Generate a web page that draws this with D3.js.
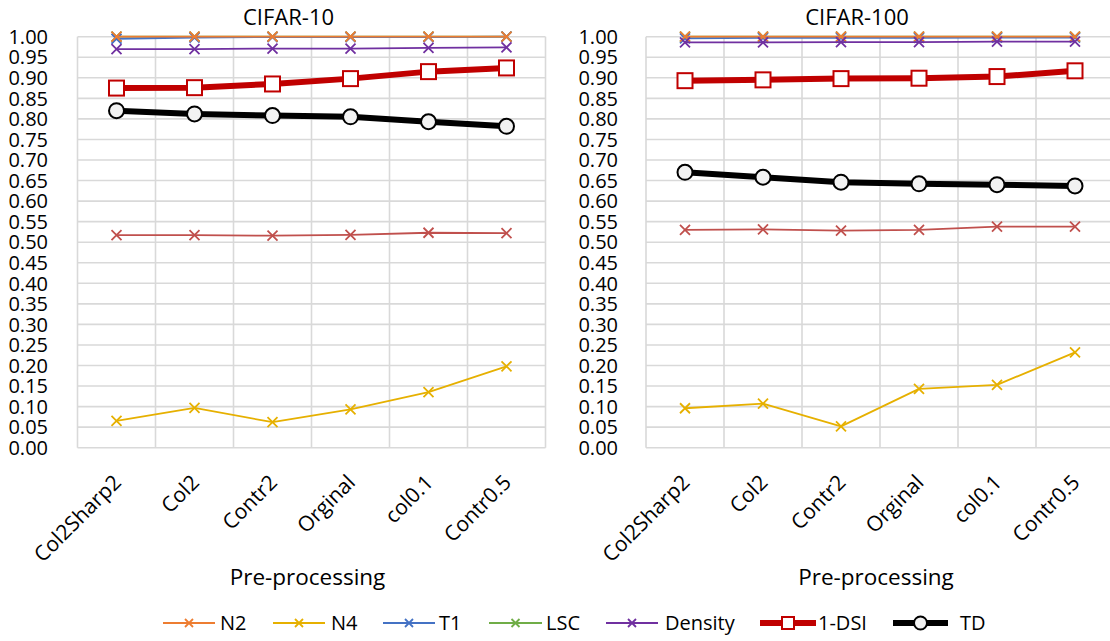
<!DOCTYPE html>
<meta charset="utf-8">
<style>
body { margin: 0; background: #fff; overflow: hidden; }
text { font-family: "Open Sans", "Noto Sans", sans-serif; fill: #000; }
</style>
<body>
<svg width="1110" height="641"></svg>
</body>
<script src="https://d3js.org/d3.v7.min.js"></script>
<script>

// categories on the x axis
var categories = ["Col2Sharp2", "Col2", "Contr2", "Orginal", "col0.1", "Contr0.5"];
var yTicks = d3.range(0, 1.0001, 0.05);

// CIFAR-10 values
var c10_N2      = [1.000, 1.000, 1.000, 1.000, 1.000, 1.000];
var c10_N4      = [0.065, 0.097, 0.062, 0.093, 0.135, 0.198];
var c10_T1      = [0.995, 0.998, 0.999, 0.999, 0.999, 1.000];
var c10_LSC     = [1.000, 1.000, 1.000, 1.000, 1.000, 1.000];
var c10_Density = [0.970, 0.970, 0.971, 0.971, 0.973, 0.974];
var c10_Other   = [0.517, 0.517, 0.516, 0.518, 0.523, 0.522];
var c10_DSI     = [0.875, 0.876, 0.885, 0.898, 0.915, 0.924];
var c10_TD      = [0.820, 0.812, 0.808, 0.805, 0.793, 0.782];

// CIFAR-100 values
var c100_N2      = [1.000, 1.000, 1.000, 1.000, 1.000, 1.000];
var c100_N4      = [0.096, 0.107, 0.052, 0.143, 0.153, 0.232];
var c100_T1      = [0.996, 0.997, 0.997, 0.997, 0.998, 0.998];
var c100_LSC     = [1.000, 1.000, 1.000, 1.000, 1.000, 1.000];
var c100_Density = [0.986, 0.986, 0.987, 0.987, 0.988, 0.988];
var c100_Other   = [0.530, 0.531, 0.528, 0.530, 0.538, 0.538];
var c100_DSI     = [0.893, 0.895, 0.898, 0.899, 0.903, 0.917];
var c100_TD      = [0.670, 0.658, 0.646, 0.642, 0.640, 0.637];

// series styles (drawing order: first is drawn underneath)
var seriesStyle = [
  {key: "LSC",     color: "#70AD47", width: 1.8, marker: "x"},
  {key: "T1",      color: "#4472C4", width: 1.8, marker: "x"},
  {key: "N2",      color: "#ED7D31", width: 1.8, marker: "x"},
  {key: "N4",      color: "#E6B000", width: 1.8, marker: "x"},
  {key: "Density", color: "#7030A0", width: 1.8, marker: "x"},
  {key: "Other",   color: "#C0504D", width: 1.8, marker: "x"},
  {key: "1-DSI",   color: "#C00000", width: 6,   marker: "square"},
  {key: "TD",      color: "#000000", width: 6,   marker: "circle"}
];
var legendOrder = ["N2", "N4", "T1", "LSC", "Density", "1-DSI", "TD"];

var panels = [
  {title: "CIFAR-10", left: 77.5, right: 545.5, labelRight: 48,
   data: {N2: c10_N2, N4: c10_N4, T1: c10_T1, LSC: c10_LSC, Density: c10_Density,
          Other: c10_Other, "1-DSI": c10_DSI, TD: c10_TD}},
  {title: "CIFAR-100", left: 646, right: 1114, labelRight: 618,
   data: {N2: c100_N2, N4: c100_N4, T1: c100_T1, LSC: c100_LSC, Density: c100_Density,
          Other: c100_Other, "1-DSI": c100_DSI, TD: c100_TD}}
];

var svg = d3.select("svg");
var plotTop = 36.7, plotBottom = 447.7;

function drawMarker(g, type, x, y, color, small) {
  if (type == "x") {
    var s = small ? 4 : 5;
    g.append("path")
      .attr("d", "M" + (x - s) + "," + (y - s) + "L" + (x + s) + "," + (y + s) +
                 "M" + (x - s) + "," + (y + s) + "L" + (x + s) + "," + (y - s))
      .attr("stroke", color).attr("stroke-width", 1.8).attr("fill", "none");
  } else if (type == "square") {
    var h = small ? 6 : 7.5;
    g.append("rect")
      .attr("x", x - h).attr("y", y - h).attr("width", 2 * h).attr("height", 2 * h)
      .attr("fill", "#fff").attr("stroke", color).attr("stroke-width", 2);
  } else {
    g.append("circle")
      .attr("cx", x).attr("cy", y).attr("r", small ? 6.5 : 7.5)
      .attr("fill", "#f2f2f2").attr("stroke", color).attr("stroke-width", 2);
  }
}

panels.forEach(function(p) {
  var x = d3.scaleBand().domain(categories).range([p.left, p.right]);
  var y = d3.scaleLinear().domain([0, 1]).range([plotBottom, plotTop]);
  var g = svg.append("g");
  var mid = (p.left + p.right) / 2;

  // horizontal gridlines
  g.selectAll(".hg").data(yTicks).enter().append("line")
    .attr("x1", p.left).attr("x2", p.right)
    .attr("y1", function(d) { return y(d); }).attr("y2", function(d) { return y(d); })
    .attr("stroke", "#d9d9d9").attr("stroke-width", 1.6);

  // vertical gridlines
  var vx = categories.map(function(c) { return x(c); }).concat([p.right]);
  g.selectAll(".vg").data(vx).enter().append("line")
    .attr("x1", function(d) { return d; }).attr("x2", function(d) { return d; })
    .attr("y1", plotTop).attr("y2", plotBottom)
    .attr("stroke", "#d9d9d9").attr("stroke-width", 1.6);

  // y tick labels
  g.selectAll(".yl").data(yTicks).enter().append("text")
    .attr("x", p.labelRight).attr("y", function(d) { return y(d); })
    .attr("dy", "0.36em").attr("text-anchor", "end")
    .style("font-size", "20px")
    .text(function(d) { return d3.format(".2f")(d); });

  // x tick labels, rotated
  g.selectAll(".xl").data(categories).enter().append("text")
    .attr("transform", function(d) {
      return "translate(" + (x(d) + x.bandwidth() / 2 + 6) + "," + (plotBottom + 36) + ") rotate(-45)";
    })
    .attr("text-anchor", "end")
    .style("font-size", "21px")
    .text(function(d) { return d; });

  // title
  g.append("text")
    .attr("x", mid - 23).attr("y", 25)
    .attr("text-anchor", "middle").style("font-size", "22px")
    .text(p.title);

  // axis title
  g.append("text")
    .attr("x", mid - 4).attr("y", 585)
    .attr("text-anchor", "middle").style("font-size", "22.5px")
    .text("Pre-processing");

  // series
  seriesStyle.forEach(function(s) {
    var vals = p.data[s.key];
    var line = d3.line()
      .x(function(d, i) { return x(categories[i]) + x.bandwidth() / 2; })
      .y(function(d) { return y(d); });
    g.append("path").datum(vals)
      .attr("d", line).attr("fill", "none")
      .attr("stroke", s.color).attr("stroke-width", s.width)
      .attr("stroke-linejoin", "round");
    vals.forEach(function(v, i) {
      drawMarker(g, s.marker, x(categories[i]) + x.bandwidth() / 2, y(v), s.color, false);
    });
  });
});

// legend
var legendX0 = [163, 273, 383, 489, 606, 760, 893];
var legendX1 = [215, 325, 435, 542, 658, 816, 948];
var legendTx = [220, 331, 439, 546, 665, 818, 960];
var leg = svg.append("g");
legendOrder.forEach(function(k, i) {
  var s = seriesStyle.find(function(d) { return d.key == k; });
  var ly = 623;
  var x0 = legendX0[i], x1 = legendX1[i];
  leg.append("line").attr("x1", x0).attr("x2", x1).attr("y1", ly).attr("y2", ly)
    .attr("stroke", s.color).attr("stroke-width", s.width);
  drawMarker(leg, s.marker, (x0 + x1) / 2, ly, s.color, true);
  leg.append("text").attr("x", legendTx[i]).attr("y", ly).attr("dy", "0.36em")
    .style("font-size", "20px").text(k);
});

</script>
